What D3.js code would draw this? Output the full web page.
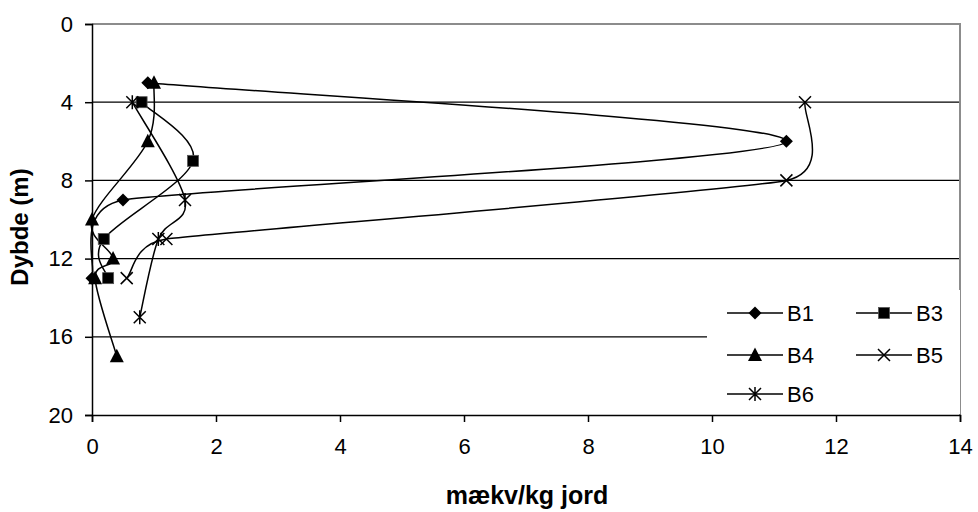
<!DOCTYPE html>
<html>
<head>
<meta charset="utf-8">
<script src="https://cdn.jsdelivr.net/npm/d3@7"></script>
<style>
  html, body { margin: 0; padding: 0; background: #fff; }
  svg { display: block; font-family: "Liberation Sans", Arial, sans-serif; }
</style>
</head>
<body>
<svg id="chart" width="978" height="512"></svg>
<script>
// Depth profiles (depth in m, value in mækv/kg jord) for each boring
const seriesNames = ["B1", "B3", "B4", "B5", "B6"];
const seriesSymbols = ["diamond", "square", "triangle", "cross", "star"];

const b1Depth = [3, 6, 9, 13];
const b1Value = [0.9, 11.2, 0.5, 0.0];

const b3Depth = [4, 7, 11, 13];
const b3Value = [0.8, 1.63, 0.19, 0.26];

const b4Depth = [3, 6, 10, 12, 13, 17];
const b4Value = [1.0, 0.9, 0.0, 0.34, 0.05, 0.4];

const b5Depth = [4, 8, 11, 13];
const b5Value = [11.5, 11.2, 1.2, 0.56];

const b6Depth = [4, 9, 11, 15];
const b6Value = [0.65, 1.5, 1.07, 0.77];

const xTicks = [0, 2, 4, 6, 8, 10, 12, 14];
const yTicks = [0, 4, 8, 12, 16, 20];
const gridDepths = [4, 8, 12, 16];

const seriesData = [
  [b1Depth, b1Value],
  [b3Depth, b3Value],
  [b4Depth, b4Value],
  [b5Depth, b5Value],
  [b6Depth, b6Value]
].map(([d, v], i) => ({
  name: seriesNames[i],
  symbol: seriesSymbols[i],
  points: d.map((depth, j) => ({ depth, value: v[j] }))
}));

const svg = d3.select("#chart");
const margin = { left: 92, top: 24, right: 18, bottom: 97 };
const W = 978, H = 512;
const x = d3.scaleLinear().domain([0, 14]).range([margin.left, W - margin.right]);
const y = d3.scaleLinear().domain([0, 20]).range([margin.top, H - margin.bottom]);

// Gridlines
svg.append("g").selectAll("line").data(gridDepths).join("line")
  .attr("x1", x(0)).attr("x2", x(14))
  .attr("y1", d => y(d)).attr("y2", d => y(d))
  .attr("stroke", "#000").attr("stroke-width", 1.3);

// Plot-area border (top and right)
svg.append("path")
  .attr("d", `M${x(0)},${y(0)}H${x(14)}V${y(20)}`)
  .attr("fill", "none").attr("stroke", "#8c8c8c").attr("stroke-width", 2);

// Smoothed line: Catmull-Rom style tangents, with the tangent length
// limited by the shorter neighbouring segment so long jumps don't balloon.
function smoothPath(pts) {
  const p = pts.map(d => [x(d.value), y(d.depth)]);
  const n = p.length;
  const dist = (a, b) => Math.hypot(b[0] - a[0], b[1] - a[1]);
  const tan = p.map((pt, i) => {
    const a = p[Math.max(0, i - 1)], b = p[Math.min(n - 1, i + 1)];
    let tx = (b[0] - a[0]) / 6, ty = (b[1] - a[1]) / 6;
    const len = Math.hypot(tx, ty);
    const dPrev = i > 0 ? dist(p[i - 1], pt) : Infinity;
    const dNext = i < n - 1 ? dist(pt, p[i + 1]) : Infinity;
    const cap = 0.6 * Math.min(dPrev, dNext);
    if (len > cap && len > 0) { tx *= cap / len; ty *= cap / len; }
    return [tx, ty];
  });
  const path = d3.path();
  path.moveTo(p[0][0], p[0][1]);
  for (let i = 0; i < n - 1; i++) {
    path.bezierCurveTo(
      p[i][0] + tan[i][0], p[i][1] + tan[i][1],
      p[i + 1][0] - tan[i + 1][0], p[i + 1][1] - tan[i + 1][1],
      p[i + 1][0], p[i + 1][1]);
  }
  return path.toString();
}

const plot = svg.append("g");
plot.selectAll("path.series").data(seriesData).join("path")
  .attr("class", "series")
  .attr("d", s => smoothPath(s.points))
  .attr("fill", "none").attr("stroke", "#000").attr("stroke-width", 1.5);

// Marker shapes
function drawMarker(g, sym) {
  if (sym === "diamond") {
    g.append("path").attr("d", "M0,-6.5L6.5,0L0,6.5L-6.5,0Z").attr("fill", "#000");
  } else if (sym === "square") {
    g.append("rect").attr("x", -5.5).attr("y", -5.5).attr("width", 11).attr("height", 11)
      .attr("fill", "#000").attr("stroke", "#555").attr("stroke-width", 0.8);
  } else if (sym === "triangle") {
    g.append("path").attr("d", "M0,-7.5L7,6L-7,6Z").attr("fill", "#000");
  } else if (sym === "cross") {
    g.append("path").attr("d", "M-6,-6L6,6M-6,6L6,-6")
      .attr("stroke", "#000").attr("stroke-width", 1.5).attr("fill", "none");
  } else if (sym === "star") {
    g.append("path").attr("d", "M-6,-6L6,6M-6,6L6,-6M0,-7V7")
      .attr("stroke", "#000").attr("stroke-width", 1.5).attr("fill", "none");
  }
}

seriesData.forEach(s => {
  s.points.forEach(p => {
    const g = plot.append("g").attr("transform", `translate(${x(p.value)},${y(p.depth)})`);
    drawMarker(g, s.symbol);
  });
});

// Axes
const xAxis = d3.axisBottom(x).tickValues(xTicks).tickSize(7).tickPadding(16).tickFormat(d3.format("d"));
const yAxis = d3.axisLeft(y).tickValues(yTicks).tickSize(7).tickPadding(12).tickFormat(d3.format("d"));

const gx = svg.append("g").attr("transform", `translate(0,${y(20)})`).call(xAxis);
const gy = svg.append("g").attr("transform", `translate(${x(0)},0)`).call(yAxis);
[gx, gy].forEach(g => {
  g.select(".domain").attr("stroke", "#000").attr("stroke-width", 1.5);
  g.selectAll(".tick line").attr("stroke", "#000").attr("stroke-width", 1.5);
  g.selectAll(".tick text").attr("font-size", 22).attr("fill", "#000")
    .attr("font-family", "Liberation Sans, Arial, sans-serif");
});

// Legend
const lg = svg.append("g");
lg.append("rect").attr("x", 707).attr("y", 290).attr("width", 253).attr("height", 124).attr("fill", "#fff");
const legendPos = [
  { cx: 727, ty: 313 }, { cx: 856, ty: 313 },
  { cx: 727, ty: 355 }, { cx: 856, ty: 355 },
  { cx: 727, ty: 394 }
];
seriesData.forEach((s, i) => {
  const p = legendPos[i];
  const g = lg.append("g").attr("transform", `translate(${p.cx},${p.ty})`);
  g.append("line").attr("x1", 0).attr("x2", 56).attr("y1", 0).attr("y2", 0)
    .attr("stroke", "#000").attr("stroke-width", 1.5);
  const m = g.append("g").attr("transform", "translate(28,0)");
  drawMarker(m, s.symbol);
  g.append("text").attr("x", 60).attr("y", 0).attr("dy", "0.36em")
    .attr("font-size", 22).text(s.name);
});

// Axis titles
svg.append("text").attr("x", 527).attr("y", 504).attr("text-anchor", "middle")
  .attr("font-size", 25).attr("font-weight", "bold").text("mækv/kg jord");
svg.append("text").attr("transform", `translate(28,227) rotate(-90)`)
  .attr("text-anchor", "middle").attr("font-size", 24).attr("font-weight", "bold").text("Dybde (m)");
</script>
</body>
</html>
